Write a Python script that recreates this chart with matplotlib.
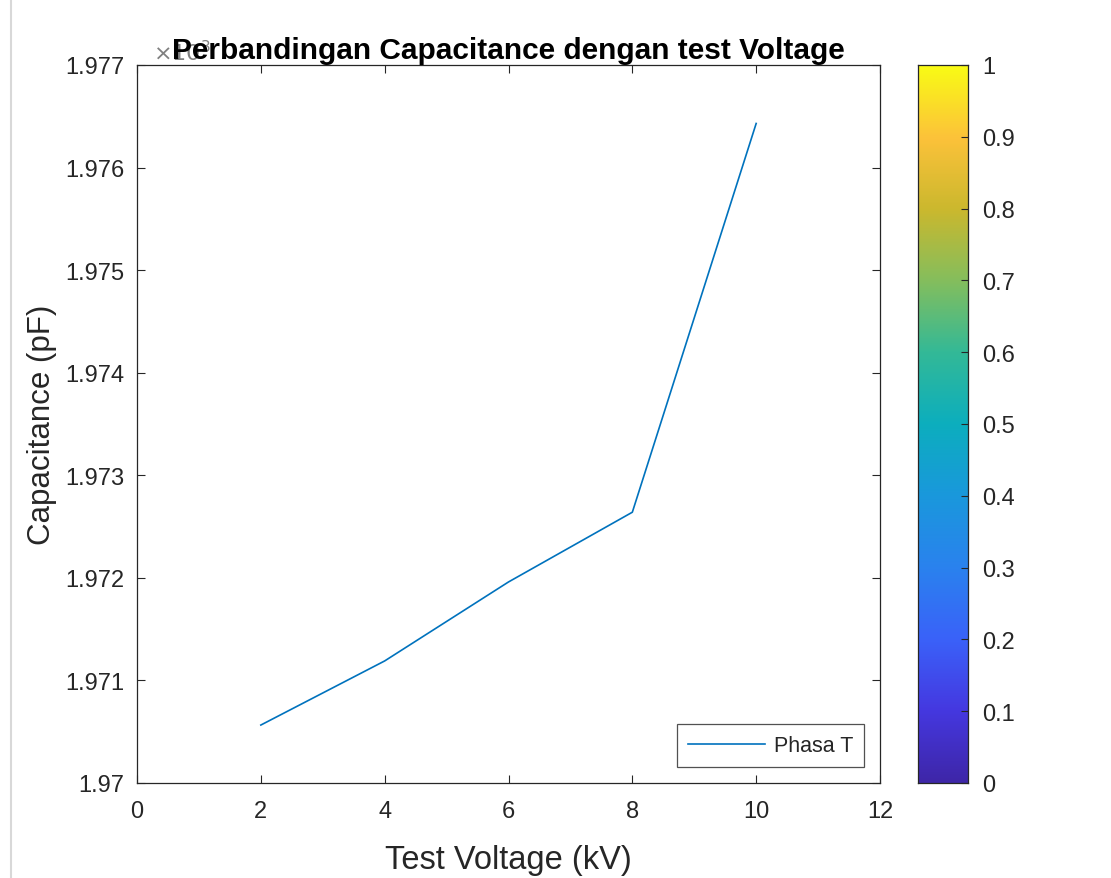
import numpy as np
import matplotlib
matplotlib.use('Agg')
import matplotlib.pyplot as plt
from matplotlib.colors import LinearSegmentedColormap
from matplotlib.ticker import FuncFormatter
from matplotlib.lines import Line2D

# Data (capacitance in pF)
voltage_kv = [2, 4, 6, 8, 10]
capacitance_pf = [1970.565, 1971.19, 1971.96, 1972.64, 1976.43]
series_label = 'Phasa T'

y_ticks = [1.970, 1.971, 1.972, 1.973, 1.974, 1.975, 1.976, 1.977]
x_ticks = [0, 2, 4, 6, 8, 10, 12]
cbar_ticks = [0, 0.1, 0.2, 0.3, 0.4, 0.5, 0.6, 0.7, 0.8, 0.9, 1]

# approximate MATLAB parula
parula_colors = ['#3e26a8', '#4538e0', '#3a62f9', '#2a82ee', '#1a98dc',
                 '#0caebe', '#33b997', '#84be5d', '#cbb82e', '#fcc23a', '#f9fb15']
parula = LinearSegmentedColormap.from_list('parula', parula_colors)

plt.rcParams['font.family'] = ['Liberation Sans', 'DejaVu Sans']
txt = '#262626'

fig = plt.figure(figsize=(11.11, 8.79), dpi=100)
fig.add_artist(Line2D([11/1111, 11/1111], [0, 1], color='#d8d8d8', lw=1.5))

ax = fig.add_axes([137/1111, 1 - 784/879, (880 - 137)/1111, (784 - 66)/879])
y_scaled = np.array(capacitance_pf) / 1000.0
ax.plot(voltage_kv, y_scaled, color='#0072bd', lw=1.2, label=series_label)
ax.set_xlim(0, 12)
ax.set_ylim(1.970, 1.977)
ax.set_xticks(x_ticks)
ax.set_yticks(y_ticks)
ax.yaxis.set_major_formatter(FuncFormatter(lambda v, p: ('%.3f' % v).rstrip('0')))
ax.tick_params(direction='in', top=True, right=True, length=6, width=0.8,
               labelsize=17, labelcolor=txt, color=txt)
ax.tick_params(axis='x', pad=12)
ax.tick_params(axis='y', pad=9)
for s in ax.spines.values():
    s.set_color(txt)
    s.set_linewidth(0.9)
ax.set_xlabel('Test Voltage (kV)', fontsize=23.5, color=txt, labelpad=16)
ax.set_ylabel('Capacitance (pF)', fontsize=22.5, color=txt, labelpad=6)
ax.set_title('Perbandingan Capacitance dengan test Voltage', fontsize=21.5,
             fontweight='bold', color='black', pad=5)
ax.text(0.022, 1.0, r'$\times10^3$', transform=ax.transAxes, fontsize=16,
        color='#808080', ha='left', va='bottom', zorder=0)
leg = ax.legend(loc='lower right', fontsize=15.5, frameon=True, fancybox=False,
                handlelength=3.6, handletextpad=0.4, borderaxespad=0.75,
                borderpad=0.5, labelcolor=txt)
leg.get_frame().set_edgecolor(txt)
leg.get_frame().set_linewidth(0.9)

cax = fig.add_axes([918/1111, 1 - 784/879, 50/1111, (784 - 66)/879])
grad = np.linspace(0, 1, 256).reshape(-1, 1)
cax.imshow(grad, aspect='auto', cmap=parula, origin='lower', extent=[0, 1, 0, 1])
cax.set_xticks([])
cax.yaxis.tick_right()
cax.set_yticks(cbar_ticks)
cax.set_yticklabels(['0', '0.1', '0.2', '0.3', '0.4', '0.5', '0.6', '0.7', '0.8', '0.9', '1'])
cax.tick_params(axis='y', direction='in', length=5, labelsize=17,
                labelcolor=txt, color=txt, pad=10)
for s in cax.spines.values():
    s.set_color(txt)
    s.set_linewidth(0.9)

fig.savefig('out.png', dpi=100)
